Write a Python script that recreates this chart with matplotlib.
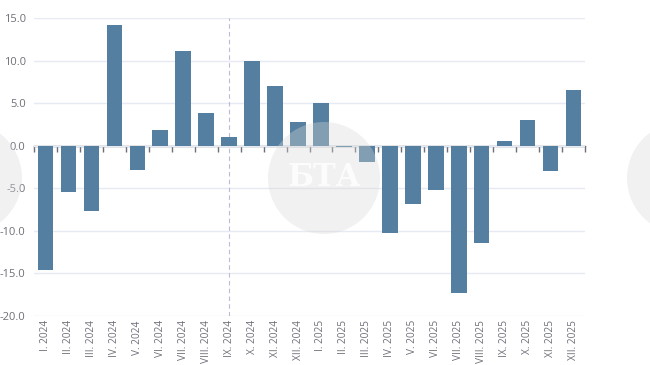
import numpy as np
import matplotlib.pyplot as plt
from matplotlib.patches import Circle

plt.rcParams["font.family"] = ["Open Sans", "DejaVu Sans"]

months = ["I", "II", "III", "IV", "V", "VI", "VII", "VIII", "IX", "X", "XI", "XII"]
labels = [m + ". 2024" for m in months] + [m + ". 2025" for m in months]
values = [-14.6, -5.4, -7.7, 14.2, -2.9, 1.8, 11.1, 3.8, 1.0, 10.0, 7.0, 2.8,
          5.0, -0.1, -1.9, -10.3, -6.8, -5.2, -17.3, -11.4, 0.6, 3.0, -3.0, 6.5]
marker_label = "IX. 2024"

bar_color = "#557fa0"
text_color = "#6e7079"
grid_color = "#e6eaf3"

fig = plt.figure(figsize=(6.5, 3.65), dpi=100)
ax = fig.add_axes([34 / 650, 1 - 316 / 365, 551 / 650, 298 / 365])

x = np.arange(len(values))
ax.bar(x, values, width=0.68, color=bar_color, zorder=3)

ax.set_xlim(-0.5, len(values) - 0.5)
ax.set_ylim(-20, 15)
ax.set_yticks(np.arange(-20, 16, 5))
ax.set_yticklabels([f"{v:.1f}" for v in np.arange(-20, 16, 5)])
ax.grid(axis="y", color=grid_color, linewidth=1, zorder=0)
for s in ax.spines.values():
    s.set_visible(False)
ax.tick_params(axis="y", length=0, pad=6, labelsize=8, labelcolor=text_color)

ax.set_xticks(x)
ax.set_xticklabels(labels, rotation=90, fontsize=7.3, color=text_color)
ax.tick_params(axis="x", length=0, pad=3)

# zero axis line with ticks at category boundaries
zero = ax.secondary_xaxis(20 / 35)
for s in zero.spines.values():
    s.set_color(text_color)
    s.set_linewidth(1)
zero.set_xticks(np.arange(-0.5, len(values), 1))
zero.tick_params(axis="x", which="both", length=4, width=1, color=text_color,
                 direction="in", labeltop=False, labelbottom=False)

# dashed marker line
ax.axvline(labels.index(marker_label), color="#b8bcd4", linestyle=(0, (4, 3)),
           linewidth=0.8, zorder=2)

# watermark logos (the two at the edges are only partly visible)
for cx in (324, -34, 683):
    circ = Circle((cx, 365 - 178), 56, transform=None, facecolor="#d8d8d8",
                  alpha=0.35, edgecolor="none", zorder=10)
    fig.patches.append(circ)
fig.text(324 / 650, 1 - 178 / 365, "БТА", ha="center", va="center", fontsize=22,
         fontweight="bold", family="DejaVu Serif", color="white", alpha=0.8,
         zorder=11)

fig.savefig("out.png", dpi=100)
